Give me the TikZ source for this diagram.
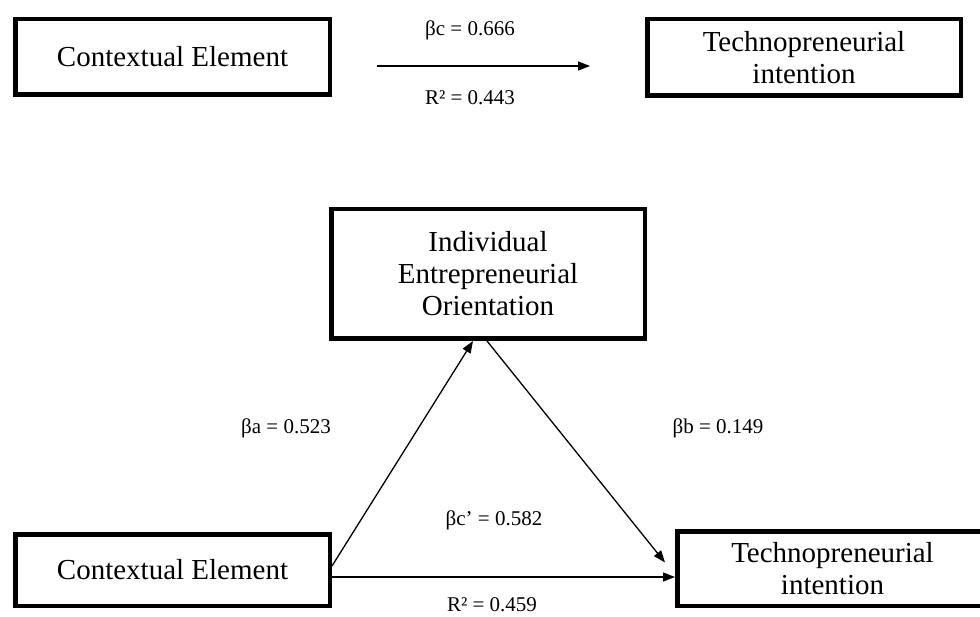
\documentclass[tikz,border=0pt]{standalone}
\usepackage{fontspec}
\setmainfont{Liberation Serif}
\usetikzlibrary{arrows.meta}
\begin{document}
\begin{tikzpicture}[x=1pt,y=-1pt,
  boxnode/.style={draw, line width=4.5pt, align=center, inner sep=0pt,
    font=\fontsize{29}{32}\selectfont},
  arr/.style={line width=1.3pt, -{Triangle[length=12pt,width=9pt]}},
  lbl/.style={font=\fontsize{21}{23}\selectfont, inner sep=0pt}]
\path[use as bounding box, clip] (0,0) rectangle (980,617);
\fill[white] (0,0) rectangle (980,617);
% top row
\node[boxnode, minimum width=314.5pt, minimum height=75.5pt] (A1) at (172.5,57) {Contextual Element};
\node[boxnode, minimum width=313.5pt, minimum height=76.5pt] (B1) at (804,57.5) {Technopreneurial\\intention};
\coordinate (t1) at (377,66);
\coordinate (t2) at (590,66);
\draw[arr] (t1) -- (t2);
\node[lbl] (lc) at (470,30) {βc = 0.666};
\node[lbl] (lr1) at (470,98) {R² = 0.443};
% mediation model
\node[boxnode, minimum width=313.5pt, minimum height=129.5pt] (M) at (488,274) {Individual\\Entrepreneurial\\Orientation};
\node[boxnode, minimum width=314.5pt, minimum height=71.5pt] (A2) at (172.5,570) {Contextual Element};
\node[boxnode, minimum width=310.5pt, minimum height=74.5pt] (B2) at (832.5,568.5) {Technopreneurial\\intention};
\coordinate (h) at (0,577);
\draw[arr] (A2.east |- h) -- (B2.west |- h);
\draw[arr] ([yshift=4pt]A2.east) -- ([xshift=-15pt]M.south);
\draw[arr] ([xshift=-1pt]M.south) -- ([xshift=-10pt,yshift=6pt]B2.west);
\node[lbl] (la) at (286,428) {βa = 0.523};
\node[lbl] (lb) at (718,428) {βb = 0.149};
\node[lbl] (lcp) at (494,520) {βc’ = 0.582};
\node[lbl] (lr2) at (492,605) {R² = 0.459};
\end{tikzpicture}
\end{document}
